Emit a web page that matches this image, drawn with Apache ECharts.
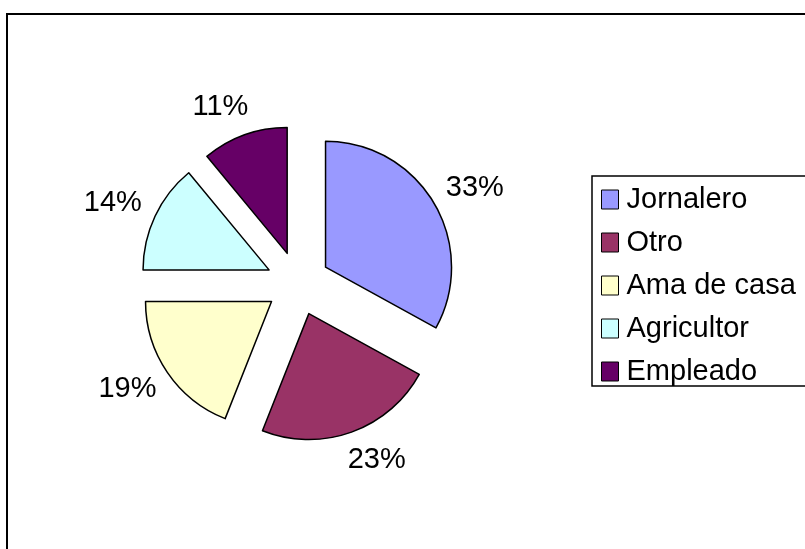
<!DOCTYPE html>
<html>
<head>
<meta charset="utf-8">
<script src="https://cdn.jsdelivr.net/npm/echarts@6/dist/echarts.min.js"></script>
<style>
  html, body { margin: 0; padding: 0; background: #fff; }
  #chart { width: 805px; height: 549px; }
</style>
</head>
<body>
<div id="chart"></div>
<script>
  // datos del gráfico
  const categorias = ['Jornalero', 'Otro', 'Ama de casa', 'Agricultor', 'Empleado']
  const porcentajes = [33, 23, 19, 14, 11]
  const colores = ['#9999FF', '#993366', '#FFFFCC', '#CCFFFF', '#660066']

  let chart = echarts.init(document.getElementById('chart'))
  let seriesData = []
  for (let i = 0; i < categorias.length; i++) {
    seriesData.push({
      name: categorias[i],
      value: porcentajes[i],
      selected: true,
      itemStyle: { color: colores[i] }
    })
  }

  let option = {
    animation: false,
    textStyle: { fontFamily: 'Liberation Sans, Arial, sans-serif' },
    graphic: [{
      type: 'rect',
      shape: { x: 7, y: 14, width: 830, height: 560 },
      style: { fill: 'none', stroke: '#000', lineWidth: 2 },
      silent: true
    }],
    legend: {
      orient: 'vertical',
      left: 592,
      top: 176,
      icon: 'rect',
      itemWidth: 17,
      itemHeight: 19,
      itemGap: 14,
      padding: [9, 40, 0, 9],
      borderColor: '#000',
      borderWidth: 1.5,
      selectedMode: false,
      itemStyle: { borderColor: '#000', borderWidth: 1 },
      textStyle: {
        fontSize: 29,
        color: '#000',
        fontFamily: 'Liberation Sans, Arial, sans-serif',
        padding: [0, 0, 0, 3]
      },
      data: categorias
    },
    series: [{
      name: 'Ocupación',
      type: 'pie',
      center: [298, 283.5],
      radius: 126,
      startAngle: 90,
      clockwise: true,
      selectedMode: 'multiple',
      selectedOffset: 32,
      avoidLabelOverlap: false,
      emphasis: { disabled: true },
      itemStyle: { borderColor: '#000', borderWidth: 1.5 },
      select: { itemStyle: { borderColor: '#000', borderWidth: 1.5 } },
      label: {
        show: true,
        position: 'outside',
        formatter: '{c}%',
        fontSize: 29,
        color: '#000',
        fontFamily: 'Liberation Sans, Arial, sans-serif',
        distanceToLabelLine: 5
      },
      labelLine: { show: false, length: 30, length2: -19 },
      data: seriesData
    }]
  }
  chart.setOption(option)
</script>
</body>
</html>
